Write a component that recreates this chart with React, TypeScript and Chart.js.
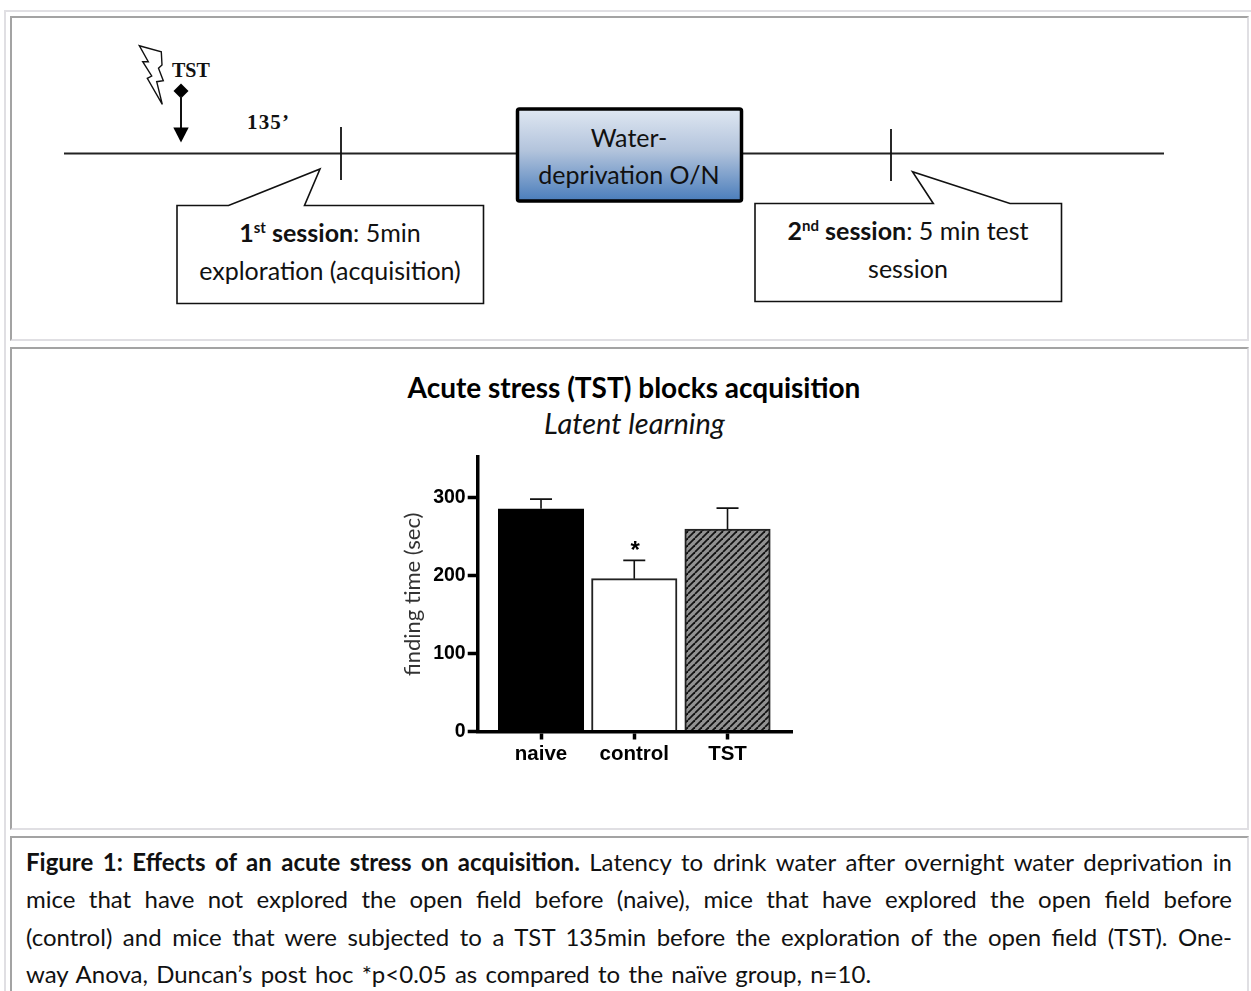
import React, { useEffect, useRef } from "react";
import { Chart, registerables } from "chart.js";

Chart.register(...registerables);

const categories = ["naive", "control", "TST"];
const meanFindingTime = [285.5, 196, 259.5];
const errorTops = [298, 219.5, 286.5];
const significance = ["", "*", ""];
const yTicks = [0, 100, 200, 300];
const yAxisTitle = "finding time (sec)";
const captionLines = [
  "Latency to drink water after overnight water deprivation in",
  "mice that have not explored the open field before (naive), mice that have explored the open field before",
  "(control) and mice that were subjected to a TST 135min before the exploration of the open field (TST). One-",
  "way Anova, Duncan’s post hoc *p<0.05 as compared to the naïve group, n=10.",
];

const UI = "Lato, 'Noto Sans', sans-serif";
const ARIAL = "'Liberation Sans', Arial, sans-serif";
const SERIF = "'Liberation Serif', serif";

function hatch(): CanvasPattern | string {
  const c = document.createElement("canvas");
  const n = 7;
  c.width = n;
  c.height = n;
  const g = c.getContext("2d")!;
  g.fillStyle = "#929292";
  g.fillRect(0, 0, n, n);
  g.strokeStyle = "#111111";
  g.lineWidth = 1.8;
  for (const o of [-n, 0, n]) {
    g.beginPath();
    g.moveTo(o, n);
    g.lineTo(o + n, 0);
    g.stroke();
  }
  return g.createPattern(c, "repeat") || "#777";
}

const annotations = {
  id: "annotations",
  afterDatasetsDraw(chart: any) {
    const { ctx, scales } = chart;
    ctx.save();
    ctx.strokeStyle = "#111";
    ctx.fillStyle = "#000";
    errorTops.forEach((top, i) => {
      const x = scales.x.getPixelForValue(i);
      const y0 = scales.y.getPixelForValue(meanFindingTime[i]);
      const y1 = scales.y.getPixelForValue(top);
      ctx.lineWidth = 1.6;
      ctx.beginPath();
      ctx.moveTo(x, y0);
      ctx.lineTo(x, y1);
      ctx.moveTo(x - 11, y1);
      ctx.lineTo(x + 11, y1);
      ctx.stroke();
      if (significance[i]) {
        ctx.font = `bold 24px ${ARIAL}`;
        ctx.textAlign = "center";
        ctx.textBaseline = "alphabetic";
        ctx.fillText(significance[i], x + 1, y1 - 2);
      }
    });
    ctx.restore();
  },
};

function Panel({ top, height }: { top: number; height: number }) {
  return (
    <div
      style={{
        position: "absolute",
        left: 10,
        top,
        width: 1239 - 4,
        height: height - 4,
        borderLeft: "2px solid #a3a3a3",
        borderTop: "2px solid #a3a3a3",
        borderRight: "2px solid #e0dfe3",
        borderBottom: "2px solid #e0dfe3",
      }}
    />
  );
}

export default function App() {
  const ref = useRef<HTMLCanvasElement>(null);
  useEffect(() => {
    const chart = new Chart(ref.current!, {
      type: "bar",
      data: {
        datasets: [
          {
            data: categories.map((_, i) => ({ x: i, y: meanFindingTime[i] })),
            backgroundColor: ["#000000", "#ffffff", hatch()],
            borderColor: ["#000000", "#222222", "#222222"],
            borderWidth: 2,
            barThickness: 85.5,
          },
        ],
      },
      options: {
        responsive: false,
        animation: false,
        layout: { padding: { left: 0, right: 17.3, top: 17, bottom: 0 } },
        plugins: { legend: { display: false }, tooltip: { enabled: false } },
        scales: {
          x: {
            type: "linear",
            offset: false,
            min: -0.679,
            max: 2.699,
            afterBuildTicks: (s: any) => {
              s.ticks = categories.map((_, i) => ({ value: i }));
            },
            afterFit: (s: any) => {
              s.height = 38.5;
            },
            ticks: {
              callback: (v: any) => categories[v],
              autoSkip: false,
              maxRotation: 0,
              color: "#000",
              padding: 3,
              font: { family: ARIAL, weight: "bold", size: 20.5 },
              z: 1,
            },
            grid: { offset: false, drawOnChartArea: false, tickLength: 8, tickWidth: 3.5, tickColor: "#000", z: 1 },
            border: { color: "#000", width: 3.5, z: 1 },
          },
          y: {
            type: "linear",
            min: 0,
            max: 352,
            afterBuildTicks: (s: any) => {
              s.ticks = yTicks.map((value) => ({ value }));
            },
            afterFit: (s: any) => {
              s.width = 97.7;
            },
            title: {
              display: true,
              text: yAxisTitle,
              color: "#333",
              font: { family: UI, size: 22 },
              padding: { top: 19.5, bottom: 0 },
            },
            ticks: {
              color: "#000",
              padding: 2,
              font: { family: ARIAL, weight: "bold", size: 19.5 },
              z: 1,
            },
            grid: { drawOnChartArea: false, tickLength: 10, tickWidth: 3.5, tickColor: "#000", z: 1 },
            border: { color: "#000", width: 3.5, z: 1 },
          },
        },
      },
      plugins: [annotations],
    } as any);
    return () => chart.destroy();
  }, []);

  const txt = { fontFamily: UI, fontSize: 25, fill: "#111", textAnchor: "middle" } as any;

  return (
    <div style={{ position: "absolute", left: 0, top: 0, width: 1251, height: 991, overflow: "hidden", background: "#fff" }}>
      <div style={{ position: "absolute", left: 3.5, top: 10, width: 1247, height: 2, background: "#e0dfe3" }} />
      <div style={{ position: "absolute", left: 3.5, top: 10, width: 2, height: 981, background: "#e0dfe3" }} />
      <Panel top={16} height={325} />
      <Panel top={347} height={483} />
      <Panel top={836} height={170} />

      <svg width={1251} height={991} style={{ position: "absolute", left: 0, top: 0 }}>
        <defs>
          <linearGradient id="wd" x1="0" y1="0" x2="0" y2="1">
            <stop offset="0" stopColor="#dfe7f2" />
            <stop offset="0.45" stopColor="#b3c4dc" />
            <stop offset="1" stopColor="#4a7dbb" />
          </linearGradient>
        </defs>
        <polygon
          points="139.3,45.7 161.3,51.7 162,65 158.5,68.3 163.3,80.7 156.7,81.7 162.3,104.3 147.3,78.3 151.7,76 142.7,61.7 148.3,61.7"
          fill="#fff"
          stroke="#111"
          strokeWidth={1.4}
        />
        <text x={172} y={77} fontFamily={SERIF} fontWeight="bold" fontSize={20} fill="#111">TST</text>
        <polygon points="181,83.5 188.5,91 181,98.5 173.5,91" fill="#000" />
        <line x1={181} y1={96} x2={181} y2={130} stroke="#111" strokeWidth={2} />
        <polygon points="173.3,127.5 188.7,127.5 181,142.5" fill="#000" />
        <text x={247} y={129} fontFamily={SERIF} fontWeight="bold" fontSize={21} fill="#111" textLength={42}>135’</text>
        <line x1={64} y1={153.5} x2={1164} y2={153.5} stroke="#222" strokeWidth={2} />
        <line x1={341} y1={127} x2={341} y2={180} stroke="#111" strokeWidth={1.8} />
        <line x1={891} y1={129} x2={891} y2={181} stroke="#111" strokeWidth={1.8} />

        <rect x={517.5} y={109} width={224} height={92} rx={2} fill="url(#wd)" stroke="#000" strokeWidth={3.5} />
        <text {...txt} x={629} y={147}>Water-</text>
        <text {...txt} x={629} y={184}>deprivation O/N</text>

        <polygon
          points="177,205.5 228.5,205.5 320,169 304.5,205.5 483.5,205.5 483.5,303.5 177,303.5"
          fill="#fff"
          stroke="#111"
          strokeWidth={1.6}
        />
        <text {...txt} x={330} y={242}>
          <tspan fontWeight="bold">1</tspan>
          <tspan fontWeight="bold" fontSize={15} dy={-9}>st</tspan>
          <tspan fontWeight="bold" dy={9}> session</tspan>: 5min
        </text>
        <text {...txt} x={330} y={280}>exploration (acquisition)</text>

        <polygon
          points="755,203.5 933.3,203.5 912.5,171.7 1010,203.5 1061.5,203.5 1061.5,301.5 755,301.5"
          fill="#fff"
          stroke="#111"
          strokeWidth={1.6}
        />
        <text {...txt} x={908} y={240}>
          <tspan fontWeight="bold">2</tspan>
          <tspan fontWeight="bold" fontSize={15} dy={-9}>nd</tspan>
          <tspan fontWeight="bold" dy={9}> session</tspan>: 5 min test
        </text>
        <text {...txt} x={908} y={278}>session</text>

        <text x={634} y={398} fontFamily={UI} fontWeight="bold" fontSize={28} fill="#000" textAnchor="middle">
          Acute stress (TST) blocks acquisition
        </text>
        <text x={634.5} y={434} fontFamily={UI} fontStyle="italic" fontSize={29} fill="#111" textAnchor="middle">
          Latent learning
        </text>
      </svg>

      <canvas ref={ref} width={430} height={330} style={{ position: "absolute", left: 380, top: 440 }} />

      <div style={{ position: "absolute", left: 26, top: 843, width: 1206, fontFamily: UI, fontSize: 24, lineHeight: "37.4px", color: "#111" }}>
        {captionLines.map((line, i) => (
          <div
            key={i}
            style={{
              whiteSpace: "nowrap",
              textAlign: i < 3 ? "justify" : "left",
              textAlignLast: i < 3 ? "justify" : "left",
              wordSpacing: i < 3 ? 0 : 2.1,
            }}
          >
            {i === 0 && <b>Figure 1: Effects of an acute stress on acquisition. </b>}
            {line}
          </div>
        ))}
      </div>
    </div>
  );
}
